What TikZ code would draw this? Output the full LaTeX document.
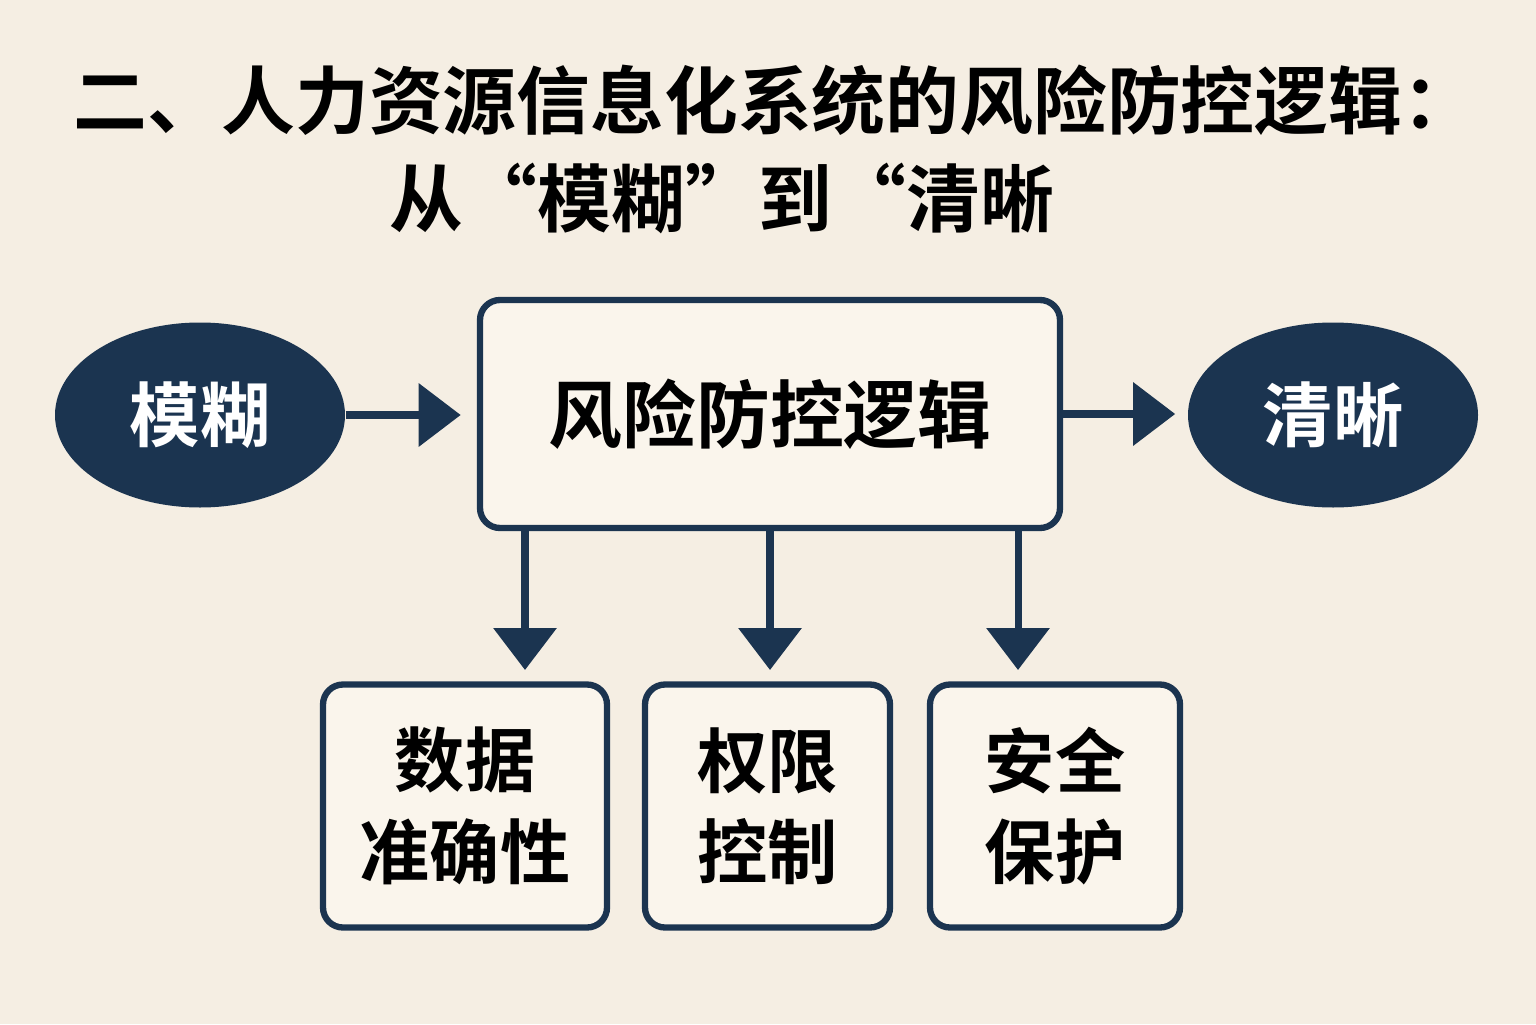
\documentclass[tikz,border=0pt]{standalone}
\usepackage{fontspec}
\setmainfont{Noto Sans CJK SC}
\newfontfamily\cjkbold{Noto Sans CJK SC Bold}
\usepackage{tikz}
\usetikzlibrary{positioning, arrows.meta, shapes.geometric}
\definecolor{navy}{HTML}{1B3450}
\definecolor{paper}{HTML}{F5EEE3}
\definecolor{boxfill}{HTML}{FAF5EC}
\tikzstyle{flow}=[-{Triangle[length=0.42cm,width=0.62cm]}, line width=2pt, navy]
\tikzstyle{box}=[draw=navy, line width=1.8pt, rounded corners=0.2cm, fill=boxfill, align=center, text=black]
\tikzstyle{blob}=[ellipse, fill=navy, text=white, minimum width=2.9cm, minimum height=1.85cm]

\begin{document}
\begin{tikzpicture}
    % 背景
    \fill[paper] (0,0) rectangle (15.36,10.24);
    \useasboundingbox (0,0) rectangle (15.36,10.24);

    % 标题
    \node[font=\cjkbold\fontsize{21}{24}\selectfont] (title1) at (7.75,9.24) {二、人力资源信息化系统的风险防控逻辑：};
    \node[font=\cjkbold\fontsize{21}{24}\selectfont] (title2) at (7.22,8.26) {从“模糊”到“清晰};

    % 中心框与两侧
    \node[box, minimum width=5.8cm, minimum height=2.28cm, font=\cjkbold\fontsize{21}{24}\selectfont] (logic) at (7.70,6.10) {风险防控逻辑};
    \node[blob, font=\cjkbold\fontsize{20}{22}\selectfont] (fuzzy) at (2.00,6.09) {模糊};
    \node[blob, font=\cjkbold\fontsize{20}{22}\selectfont] (clear) at (13.33,6.09) {清晰};

    % 下方三框
    \node[box, minimum width=2.84cm, minimum height=2.43cm, font=\cjkbold\fontsize{20}{26}\selectfont] (data) at (4.65,2.18) {数据\\准确性};
    \node[box, minimum width=2.45cm, minimum height=2.43cm, font=\cjkbold\fontsize{20}{26}\selectfont] (auth) at (7.675,2.18) {权限\\控制};
    \node[box, minimum width=2.50cm, minimum height=2.43cm, font=\cjkbold\fontsize{20}{26}\selectfont] (safe) at (10.55,2.18) {安全\\保护};

    % 箭头
    \draw[flow] (fuzzy.east) -- ++(1.15,0);
    \draw[flow] (logic.east) -- ++(1.12,0);
    \draw[flow] (logic.south -| 5.25,0) -- (5.25,3.54);
    \draw[flow] (logic.south -| 7.70,0) -- (7.70,3.54);
    \draw[flow] (logic.south -| 10.18,0) -- (10.18,3.54);
\end{tikzpicture}
\end{document}
